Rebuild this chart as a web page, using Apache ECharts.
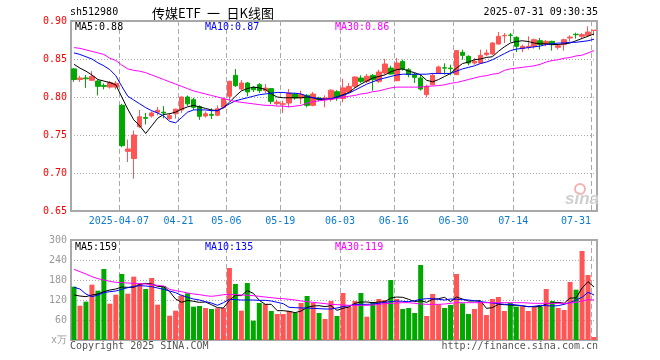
<!DOCTYPE html>
<html><head><meta charset="utf-8">
<script src="https://cdn.jsdelivr.net/npm/echarts@6/dist/echarts.min.js"></script>
<style>html,body{margin:0;padding:0;background:#fff;} #c{width:660px;height:360px;}</style>
</head><body><div id="c"></div>
<script>
const dates = ['2025-03-25','2025-03-26','2025-03-27','2025-03-28','2025-03-31',
'2025-04-01','2025-04-02','2025-04-03','2025-04-07','2025-04-08','2025-04-09','2025-04-10','2025-04-11',
'2025-04-14','2025-04-15','2025-04-16','2025-04-17','2025-04-18','2025-04-21','2025-04-22','2025-04-23',
'2025-04-24','2025-04-25','2025-04-28','2025-04-29','2025-04-30',
'2025-05-06','2025-05-07','2025-05-08','2025-05-09','2025-05-12','2025-05-13','2025-05-14','2025-05-15',
'2025-05-16','2025-05-19','2025-05-20','2025-05-21','2025-05-22','2025-05-23','2025-05-26','2025-05-27',
'2025-05-28','2025-05-29','2025-05-30',
'2025-06-03','2025-06-04','2025-06-05','2025-06-06','2025-06-09','2025-06-10','2025-06-11','2025-06-12',
'2025-06-13','2025-06-16','2025-06-17','2025-06-18','2025-06-19','2025-06-20','2025-06-23','2025-06-24',
'2025-06-25','2025-06-26','2025-06-27','2025-06-30',
'2025-07-01','2025-07-02','2025-07-03','2025-07-04','2025-07-07','2025-07-08','2025-07-09','2025-07-10',
'2025-07-11','2025-07-14','2025-07-15','2025-07-16','2025-07-17','2025-07-18','2025-07-21','2025-07-22',
'2025-07-23','2025-07-24','2025-07-25','2025-07-28','2025-07-29','2025-07-30','2025-07-31'];

const labelDates = ['2025-04-07','2025-04-21','2025-05-06','2025-05-19','2025-06-03','2025-06-16','2025-06-30','2025-07-14','2025-07-31'];
const priceTicks = [0.65, 0.70, 0.75, 0.80, 0.85, 0.90];
const volTicks = [0, 60, 120, 180, 240, 300];

const opens = [.837,.823,.825,.822,.821,.815,.813,.813,.789,.7285,
.719,.761,.773,.775,.780,.780,.7715,.778,.783,.800,
.7965,.7873,.775,.777,.776,.7864,.801,.8285,.8105,.8184,
.8127,.8162,.8083,.811,.7912,.7905,.7921,.8039,.7987,.8022,
.789,.7987,.7965,.797,.807,.798,.8066,.814,.825,.8206,
.8285,.8206,.8316,.838,.8215,.8469,.836,.8294,.825,.8031,
.8162,.8316,.8385,.838,.8294,.8588,.8535,.8447,.8447,.8557,
.8566,.8697,.8805,.8815,.8785,.8636,.8654,.8667,.8741,.8697,
.8732,.8654,.8689,.8776,.8825,.8798,.8811,.8876];
const closes = [.823,.825,.824,.827,.814,.814,.819,.818,.736,.7316,
.750,.774,.772,.779,.7825,.779,.7754,.784,.800,.791,
.7864,.7746,.778,.776,.7846,.7974,.8206,.8149,.8184,.8066,
.8096,.8083,.8118,.7943,.7934,.791,.8053,.7987,.8031,.789,
.8039,.7965,.7987,.809,.799,.812,.814,.8263,.8206,.8272,
.8228,.8329,.8434,.8303,.8447,.8368,.8294,.8259,.8105,.814,
.8285,.8395,.838,.8373,.861,.8548,.8447,.8469,.8548,.8579,
.8711,.8798,.8811,.8811,.8667,.8667,.8667,.8754,.8689,.8732,
.8689,.8675,.8754,.8789,.882,.882,.8855,.8878];
const lows = [.820,.820,.812,.821,.802,.810,.811,.810,.734,.7145,
.6925,.759,.764,.773,.776,.772,.770,.7715,.779,.788,
.783,.770,.773,.771,.7746,.7846,.7952,.8132,.8088,.8009,
.8066,.8053,.8053,.7908,.789,.779,.7864,.7965,.7908,.7864,
.7877,.7943,.7864,.794,.795,.793,.8053,.8118,.8184,.8184,
.8083,.8184,.8294,.8294,.8206,.8346,.8259,.8184,.8083,.7996,
.8154,.8303,.8294,.8285,.829,.8491,.8417,.8425,.8434,.8535,
.8548,.8689,.8711,.8724,.8592,.8592,.8623,.8636,.8623,.8667,
.861,.8623,.861,.8732,.8768,.8768,.8798,.8811];
const highs = [.838,.828,.829,.834,.823,.818,.821,.821,.791,.744,
.756,.783,.779,.781,.787,.788,.779,.7845,.8005,.802,
.799,.789,.781,.785,.789,.7996,.8215,.8368,.8224,.8197,
.814,.8184,.8171,.8118,.7965,.7952,.8105,.8053,.8083,.8039,
.8066,.8004,.8022,.810,.809,.824,.8184,.8272,.8285,.8303,
.8303,.836,.850,.8412,.8513,.8491,.838,.8316,.8303,.8162,
.8316,.8412,.8443,.8425,.8615,.8623,.8548,.8513,.8623,.8623,
.8724,.8855,.8842,.8842,.8798,.8689,.8798,.8768,.8776,.875,
.8741,.8689,.8768,.8811,.8846,.8842,.893,.8878];

const ma5 = [.843,.838,.834,.829,.823,.821,.819,.816,.800,.784,
.770,.762,.752,.762,.772,.777,.778,.780,.784,.787,
.789,.787,.785,.783,.782,.786,.793,.801,.808,.811,
.813,.812,.810,.804,.800,.799,.799,.799,.799,.800,
.799,.797,.797,.797,.800,.803,.806,.812,.817,.821,
.825,.827,.829,.833,.836,.837,.834,.832,.829,.822,
.820,.823,.827,.831,.838,.844,.846,.849,.850,.852,
.853,.860,.866,.871,.873,.874,.873,.871,.870,.870,
.869,.869,.870,.871,.874,.877,.880,.883];
const ma10 = [.858,.856,.853,.850,.845,.841,.836,.828,.814,.801,
.796,.791,.786,.782,.779,.775,.768,.766,.773,.780,
.783,.783,.783,.782,.782,.786,.791,.795,.797,.799,
.801,.803,.804,.805,.806,.806,.805,.805,.804,.801,
.799,.798,.797,.798,.800,.802,.805,.809,.813,.817,
.820,.823,.825,.827,.829,.830,.830,.830,.830,.830,
.831,.831,.831,.831,.834,.837,.839,.841,.844,.846,
.849,.853,.857,.861,.863,.864,.865,.866,.867,.869,
.870,.871,.871,.872,.872,.873,.874,.876];
const ma30 = [.865,.864,.862,.860,.858,.856,.851,.848,.842,.837,
.835,.834,.832,.829,.826,.823,.820,.817,.814,.811,
.808,.806,.804,.802,.800,.798,.796,.794,.793,.792,
.791,.790,.789,.789,.788,.788,.787,.788,.789,.792,
.794,.795,.796,.797,.798,.7995,.801,.802,.804,.805,
.807,.808,.810,.812,.813,.813,.813,.813,.813,.814,
.8145,.815,.816,.818,.819,.821,.823,.825,.827,.828,
.830,.831,.835,.837,.838,.839,.840,.841,.843,.846,
.848,.849,.851,.852,.854,.855,.858,.861];

const volumes = [160,103,115,166,148,213,109,136,198,139,
190,171,153,186,106,162,73,88,134,140,
100,102,96,93,95,96,216,168,88,171,
58,111,108,87,78,78,87,81,111,132,
111,81,63,117,72,141,100,117,141,70,
114,123,120,180,123,93,96,81,225,72,
138,107,96,105,198,110,78,93,114,75,
123,129,87,111,100,100,87,100,100,153,
117,96,90,174,151,267,195,9];
const vma5 = [135,132,130,135,138,145,150,153,159,158,
158,167,170,168,161,160,145,123,113,119,
116,113,114,106,97,96,119,134,133,148,
140,119,107,107,88,88,86,82,87,98,
102,103,100,103,89,95,99,110,114,114,
112,114,115,126,129,128,122,115,118,113,
122,124,128,115,129,123,117,117,118,95,
97,107,106,105,104,102,100,100,100,108,
111,113,110,126,126,156,175,159];
const vma10 = [158,153,138,130,135,142,145,147,152,157,
161,163,162,160,156,152,147,142,134,128,
123,120,115,111,104,112,122,121,120,120,
120,119,119,117,113,109,98,97,96,96,
95,94,93,93,96,100,103,106,107,107,
108,110,113,115,117,116,115,118,122,124,
124,122,120,123,122,121,120,118,115,113,
111,109,107,107,105,103,100,101,104,103,
102,103,107,112,120,128,143,135];
const vma30 = [212,205,198,190,184,180,176,173,172,171,
170,169,168,166,164,162,152,148,145,141,
138,136,133,131,133,136,137,136,135,134,
133,131,129,127,125,124,122,120,117,115,
113,111,109,107,106,105,104,104,104,104,
105,107,109,110,111,112,112,110,108,107,
107,107,108,110,112,112,112,112,112,112,
112,112,112,112,112,112,111,110,110,110,
110,110,110,111,113,117,121,120];

const UP = '#ff5555', DOWN = '#00a800';
const MONO = '"DejaVu Sans Mono", monospace';
const labelIdx = labelDates.map(d => dates.indexOf(d));
const isLabel = (i) => labelIdx.indexOf(i) >= 0;
const lastIdx = dates.length - 1;

const ohlc = dates.map((d, i) => [opens[i], closes[i], lows[i], highs[i]]);
const volData = volumes.map((v, i) => ({ value: v, itemStyle: { color: closes[i] >= opens[i] ? UP : DOWN } }));

const vSplit = { show: true, interval: (i) => isLabel(i), lineStyle: { color: '#aaaaaa', type: [5, 3], width: 1 } };
const hSplit = { show: true, lineStyle: { color: '#aaaaaa', type: [1, 2], width: 1 } };

function txt(text, x, y, color, align, font) {
  return { type: 'text', x: x, y: y, z: 100,
    style: { text: text, fill: color, font: font || ('10px ' + MONO), align: align || 'left', textAlign: align || 'left',
      verticalAlign: 'middle', textVerticalAlign: 'middle' } };
}

const line = (data, color, xi) => ({ type: 'line', data: data, xAxisIndex: xi, yAxisIndex: xi, symbol: 'none', showSymbol: false,
  lineStyle: { color: color, width: 1 }, itemStyle: { color: color }, silent: true, z: 5 });

const option = {
  animation: false,
  backgroundColor: '#ffffff',
  grid: [
    { left: 71, top: 21, width: 526, height: 190, show: true, borderColor: '#a8a8a8', borderWidth: 2, backgroundColor: 'transparent' },
    { left: 71, top: 240, width: 526, height: 100, show: true, borderColor: '#a8a8a8', borderWidth: 2, backgroundColor: 'transparent' }
  ],
  xAxis: [
    { type: 'category', gridIndex: 0, data: dates, boundaryGap: true,
      axisLine: { show: false }, axisTick: { show: false },
      axisLabel: { interval: (i) => isLabel(i), color: '#0b7bd0', fontFamily: MONO, fontSize: 10, margin: 5, padding: [0, 6, 0, 0],
        formatter: (v, i) => {
          const idx = dates.indexOf(v);
          if (idx === labelIdx[0]) return v;
          if (idx === lastIdx) return v.slice(5) + '\u00a0\u00a0\u00a0\u00a0\u00a0';
          return v.slice(5);
        } },
      splitLine: vSplit },
    { type: 'category', gridIndex: 1, data: dates, boundaryGap: true,
      axisLine: { show: false }, axisTick: { show: false }, axisLabel: { show: false }, splitLine: vSplit }
  ],
  yAxis: [
    { type: 'value', gridIndex: 0, min: priceTicks[0], max: priceTicks[priceTicks.length - 1], interval: 0.05,
      axisLine: { show: false }, axisTick: { show: false }, splitLine: hSplit,
      axisLabel: { color: '#ff0000', fontFamily: MONO, fontSize: 10, margin: 4, formatter: (v) => v.toFixed(2) } },
    { type: 'value', gridIndex: 1, min: volTicks[0], max: volTicks[volTicks.length - 1], interval: 60,
      axisLine: { show: false }, axisTick: { show: false }, splitLine: hSplit,
      axisLabel: { color: '#999999', fontFamily: MONO, fontSize: 10, margin: 4, formatter: (v) => v === 0 ? 'x万' : String(v) } }
  ],
  series: [
    { type: 'candlestick', xAxisIndex: 0, yAxisIndex: 0, data: ohlc, barWidth: 5, z: 3,
      itemStyle: { color: UP, color0: DOWN, borderColor: UP, borderColor0: DOWN, borderWidth: 1 } },
    line(ma5, '#000000', 0), line(ma10, '#0000ff', 0), line(ma30, '#ff00ff', 0),
    { type: 'bar', xAxisIndex: 1, yAxisIndex: 1, data: volData, barWidth: 5, z: 3 },
    line(vma5, '#000000', 1), line(vma10, '#0000ff', 1), line(vma30, '#ff00ff', 1)
  ],
  graphic: [
    txt('sh512980', 70, 12, '#000000'),
    txt('传媒ETF\u2002一\u2002日K线图', 152, 13, '#000000', 'left', '13px "Noto Sans CJK SC"'),
    txt('2025-07-31 09:30:35', 598, 12, '#000000', 'right'),
    txt('MA5:0.88', 75, 27, '#000000'),
    txt('MA10:0.87', 205, 27, '#0000ff'),
    txt('MA30:0.86', 335, 27, '#ff00ff'),
    txt('MA5:159', 75, 247, '#000000'),
    txt('MA10:135', 205, 247, '#0000ff'),
    txt('MA30:119', 335, 247, '#ff00ff'),
    txt('Copyright 2025 SINA.COM', 70, 346, '#555555'),
    txt('http://finance.sina.com.cn', 598, 346, '#555555', 'right'),
    { type: 'circle', z: 1, shape: { cx: 580, cy: 189, r: 5 }, style: { fill: 'none', stroke: '#f3b3b3', lineWidth: 2 } },
    txt('sina', 565, 199, '#cfcfcf', 'left', 'italic bold 17px "Liberation Sans"')
  ]
};

const chart = echarts.init(document.getElementById('c'), null, { renderer: 'canvas' });
chart.setOption(option);
</script>
</body></html>
